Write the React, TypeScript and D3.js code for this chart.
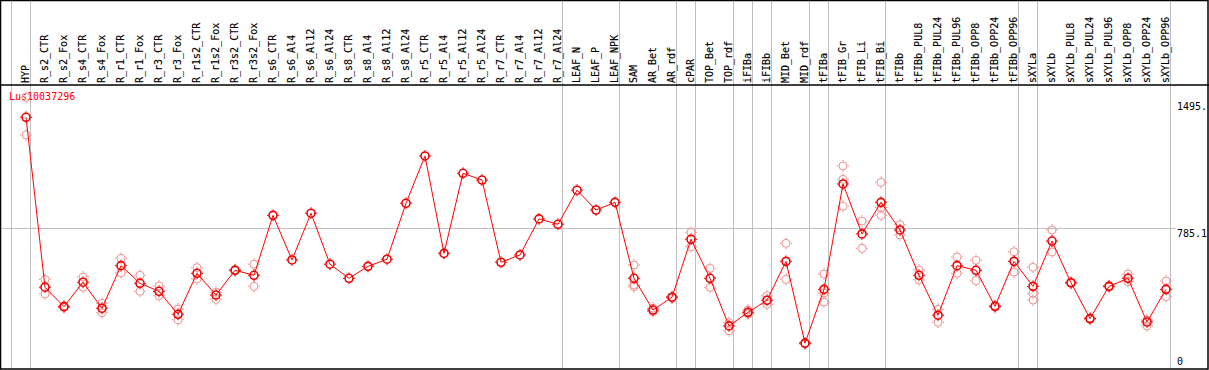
import * as d3 from "d3";

const W = 1209;
const H = 370;

const samples = [
  "HYP", "R_s2_CTR", "R_s2_Fox", "R_s4_CTR", "R_s4_Fox", "R_r1_CTR", "R_r1_Fox",
  "R_r3_CTR", "R_r3_Fox", "R_r1s2_CTR", "R_r1s2_Fox", "R_r3s2_CTR", "R_r3s2_Fox",
  "R_s6_CTR", "R_s6_Al4", "R_s6_Al12", "R_s6_Al24", "R_s8_CTR", "R_s8_Al4",
  "R_s8_Al12", "R_s8_Al24", "R_r5_CTR", "R_r5_Al4", "R_r5_Al12", "R_r5_Al24",
  "R_r7_CTR", "R_r7_Al4", "R_r7_Al12", "R_r7_Al24", "LEAF_N", "LEAF_P", "LEAF_NPK",
  "SAM", "AR_Bet", "AR_rdf", "cPAR", "TOP_Bet", "TOP_rdf", "iFIBa", "iFIBb",
  "MID_Bet", "MID_rdf", "tFIBa", "tFIB_Gr", "tFIB_Li", "tFIB_Bi", "tFIBb",
  "tFIBb_PUL8", "tFIBb_PUL24", "tFIBb_PUL96", "tFIBb_OPP8", "tFIBb_OPP24",
  "tFIBb_OPP96", "sXYLa", "sXYLb", "sXYLb_PUL8", "sXYLb_PUL24", "sXYLb_PUL96",
  "sXYLb_OPP8", "sXYLb_OPP24", "sXYLb_OPP96",
];

// mean expression per sample
const means = [
  1406, 453, 344, 481, 335, 574, 475, 430, 301, 531, 409, 548, 520,
  856, 606, 868, 582, 503, 570, 610, 924, 1189, 643, 1092, 1054,
  593, 634, 836, 806, 997, 886, 929,
  503, 325, 397, 722, 503, 236, 312, 380, 598, 139, 441,
  1032, 752, 929, 774, 520, 296, 574, 548, 346, 598,
  458, 712, 478, 277, 458, 503, 258, 441,
];

// individual replicates per sample
const replicates = [
  [1518, 1307], [497, 415], [340, 348], [510, 453], [363, 310], [615, 534], [520, 430],
  [460, 405], [331, 271], [563, 499], [385, 425], [545, 552], [582, 458],
  [], [], [], [], [], [], [], [], [], [], [], [], [], [], [], [], [], [], [],
  [578, 466, 456], [316, 336], [392, 400], [761, 680], [559, 453], [254, 209],
  [325, 303], [405, 357], [699, 497], [135, 142], [527, 420, 370],
  [1133, 1058, 907], [824, 671], [1041, 900, 856], [804, 746], [550, 494],
  [329, 256], [621, 531], [604, 490], [340, 350], [652, 538],
  [565, 419, 381], [774, 651], [475, 481], [273, 280], [455, 462], [527, 484],
  [269, 236], [488, 400],
];

// first sample of each group (a grey separator is drawn before it)
const groupStarts = [
  "HYP", "R_s2_CTR", "LEAF_N", "SAM", "cPAR", "TOP_Bet", "iFIBa", "iFIBb",
  "MID_Bet", "tFIBa", "tFIB_Gr", "tFIBb", "sXYLa", "sXYLb",
];

const yTicks = [
  { v: 1495, label: "1495." },
  { v: 785.1, label: "785.1" },
  { v: 0, label: "0" },
];

const title = "Lus10037296";
const FONT = "'DejaVu Sans Mono', monospace";

export default function App() {
  const x = d3.scalePoint<string>().domain(samples).range([26, 1166]).padding(0);
  const y = d3.scaleLinear().domain([0, 1570.2]).range([368, 88]);
  const step = x.step();

  const line = d3
    .line<number>()
    .x((_, i) => x(samples[i]) as number)
    .y((d) => y(d));

  const seps = groupStarts.map((s) => Math.round((x(s) as number) - step + 4) + 0.5);
  seps.push(Math.round((x(samples[samples.length - 1]) as number) + 4) + 0.5);
  const gridY = Math.round(y(785.1)) + 0.5;

  const marker = (cx: number, cy: number, color: string, sw: number, key: string) => (
    <g key={key} stroke={color} fill="none" strokeWidth={sw}>
      <circle cx={cx} cy={cy} r={4} />
      <line x1={cx} x2={cx} y1={cy - 6} y2={cy - 4.5} strokeWidth={1} />
      <line x1={cx} x2={cx} y1={cy + 4.5} y2={cy + 6} strokeWidth={1} />
      <line x1={cx - 6} x2={cx - 4.5} y1={cy} y2={cy} strokeWidth={1} />
      <line x1={cx + 4.5} x2={cx + 6} y1={cy} y2={cy} strokeWidth={1} />
    </g>
  );

  return (
    <svg
      width={W}
      height={H}
      style={{ position: "absolute", left: 0, top: 0, background: "#fff" }}
      fontFamily={FONT}
      fontSize={10}
    >
      <rect x={0} y={0} width={W} height={H} fill="#fff" />
      {/* separators */}
      {seps.map((sx, i) => (
        <line key={"s" + i} x1={sx} x2={sx} y1={0} y2={369} stroke="#c0c0c0" strokeWidth={1} />
      ))}
      {/* mid grid line */}
      <line x1={0} x2={1176} y1={gridY} y2={gridY} stroke="#c0c0c0" strokeWidth={1} />

      {/* column labels */}
      {samples.map((s) => (
        <text
          key={s}
          transform={`translate(${(x(s) as number) + 3},83) rotate(-90)`}
          fill="#000"
          stroke="#000"
          strokeWidth={0.15}
        >
          {s}
        </text>
      ))}

      {/* axis labels */}
      {yTicks.map((t) => (
        <text
          key={t.label}
          x={1177}
          y={t.v === 0 ? 365 : y(t.v) + 9}
          fill="#000"
        >
          {t.label}
        </text>
      ))}

      <text x={9} y={100} fill="#ff0000">
        {title}
      </text>

      {/* replicates */}
      {replicates.map((reps, i) =>
        reps.map((v, j) =>
          marker(x(samples[i]) as number, y(v), "#f09090", 1, `r${i}-${j}`)
        )
      )}

      <path d={line(means) || ""} fill="none" stroke="#ff0000" strokeWidth={1} />
      {means.map((v, i) => marker(x(samples[i]) as number, y(v), "#ee0000", 1.6, `m${i}`))}

      {/* frame */}
      <line x1={0} x2={W} y1={85} y2={85} stroke="#000" strokeWidth={1.5} />
      <rect x={0.5} y={0.5} width={W - 1.5} height={H - 1.5} fill="none" stroke="#000" strokeWidth={1.5} />
    </svg>
  );
}
